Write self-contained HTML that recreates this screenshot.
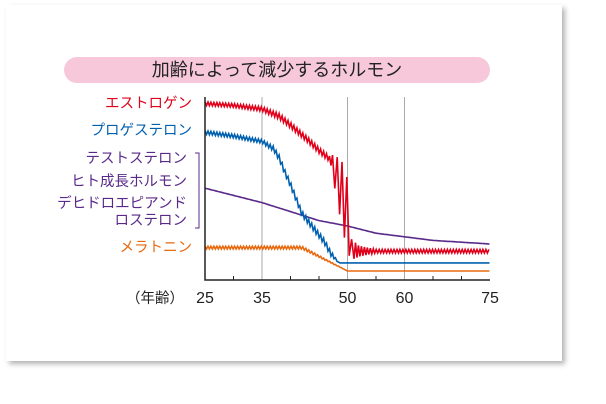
<!DOCTYPE html>
<html><head><meta charset="utf-8"><style>
body{margin:0;width:606px;height:404px;background:#fff;overflow:hidden;font-family:"Liberation Sans","Noto Sans CJK JP",sans-serif}
#card{position:absolute;left:6px;top:5px;width:556px;height:356px;background:#fff;box-shadow:3px 3px 5px rgba(0,0,0,.3)}
#pill{position:absolute;left:64px;top:57px;width:426px;height:26px;border-radius:13px;background:#f6c8da;text-align:center;font-size:18px;line-height:26px;color:#222}
.lg{position:absolute;right:414px;font-size:14.5px;white-space:nowrap;text-align:right;line-height:17px}
</style></head><body>
<div id="card"></div>
<div id="pill">加齢によって減少するホルモン</div>
<div class="lg" style="top:96px;color:#e0001a">エストロゲン</div>
<div class="lg" style="top:123px;color:#0060b0">プロゲステロン</div>
<div class="lg" style="top:151px;color:#5a2a8a;right:419px">テストステロン</div>
<div class="lg" style="top:174px;color:#5a2a8a;right:419px">ヒト成長ホルモン</div>
<div class="lg" style="top:196px;color:#5a2a8a;right:419px">デヒドロエピアンド<br>ロステロン</div>
<div class="lg" style="top:240px;color:#e86a10">メラトニン</div>
<svg width="606" height="404" style="position:absolute;left:0;top:0" id="svg"></svg>
<script>
const ageTicks=[25,35,50,60,75];
const gridAges=[35,50,60];
const minorTicks=[30,40,45,55,65,70];
const estAges=[25,30,35,38,40,43,45,47,47.6,49,50,50.6,52,55,75];
const estVals=[98,97,95,91,86,78,72,67,62,48,36,17,16,16,16];
const estAmp=[1,1,1.2,1.5,1.5,1.5,1.5,1.5,8,18,20,6,3,1,1];
const proAges=[25,30,35,37,38,39,40,41,42,44,46,47,48.5,75];
const proVals=[82,80,77,73,68,60,53,45,37,29,21,15,9.5,9.5];
const proAmp=[1,1,1,1.3,1.5,1.5,1.5,1.5,1.5,1.5,1.5,1.5,0,0];
const dheaAges=[25,30,35,40,45,50,55,60,65,70,75];
const dheaVals=[51,47,43,38,33,30,26,24,22,21,20];
const melAges=[25,30,35,42,50,75];
const melVals=[18,18,18,18,5,5];
const melAmp=[0.8,0.8,0.8,0.8,0,0];
const x=a=>205+(a-25)*5.7, y=v=>280-v*1.8;
const svg=document.getElementById('svg');
function mk(t,at){const e=document.createElementNS('http://www.w3.org/2000/svg',t);for(const k in at)e.setAttribute(k,at[k]);svg.appendChild(e);return e;}
function interp(ages,vals,a){for(let i=0;i<ages.length-1;i++){if(a<=ages[i+1]){const t=(a-ages[i])/(ages[i+1]-ages[i]);return vals[i]+t*(vals[i+1]-vals[i]);}}return vals[vals.length-1];}
gridAges.forEach(a=>{const l=mk('line',{x1:x(a),x2:x(a),y1:97,y2:280,stroke:'#aaa','stroke-width':1});

});
function series(ages,vals,amp,color,name){
let d='';let k=0;let a=ages[0];const end=ages[ages.length-1];
while(a<=end+1e-6){const v=interp(ages,vals,a);const am=amp?interp(ages,amp,a):0;const yy=y(v)+(k%2?am:-am)*1.8;d+=(k?'L':'M')+x(a).toFixed(1)+' '+yy.toFixed(1);k++;a+=(am>5?0.42:0.26);}
const p=mk('path',{d:d,fill:'none',stroke:color,'stroke-width':1.6,'stroke-linejoin':'miter'});

}
series(dheaAges,dheaVals,null,'#5a2a8a','line-dhea');
series(melAges,melVals,melAmp,'#e86a10','line-melatonin');
series(proAges,proVals,proAmp,'#0060b0','line-progesterone');
series(estAges,estVals,estAmp,'#e0001a','line-estrogen');
const ax=mk('path',{d:'M205 97V280H490',fill:'none',stroke:'#222','stroke-width':1.5});


minorTicks.forEach(a=>{const t=mk('line',{x1:x(a),x2:x(a),y1:276,y2:280,stroke:'#222','stroke-width':1});

});
ageTicks.forEach(a=>{const t=mk('text',{x:x(a),y:303,'text-anchor':'middle','font-size':16,fill:'#222'});t.textContent=a;

});
const xt=mk('text',{x:155,y:303,'text-anchor':'middle','font-size':14.5,fill:'#222'});xt.textContent='（年齢）';


const br=mk('path',{d:'M195 153H199V228H195',fill:'none',stroke:'#5a2a8a','stroke-width':1});


</script>
</body></html>
